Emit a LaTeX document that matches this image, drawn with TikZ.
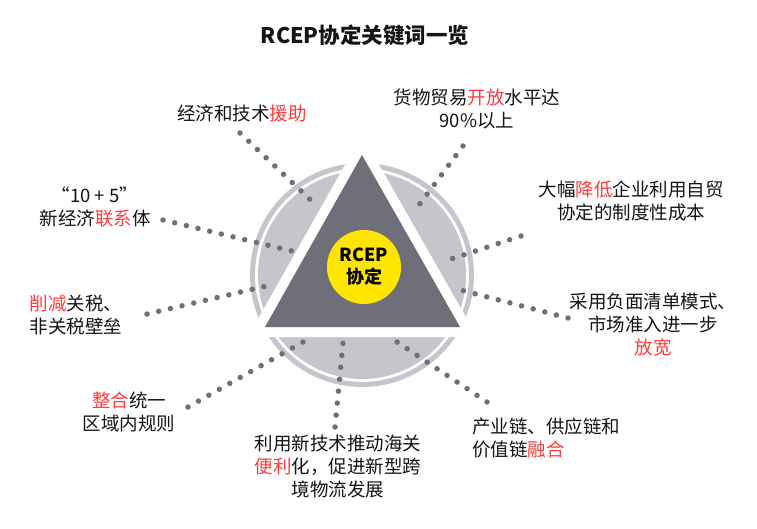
\documentclass[tikz,border=0pt]{standalone}
\usepackage{fontspec}
\setmainfont{Noto Sans CJK SC}
\definecolor{tri}{RGB}{111,111,122}
\definecolor{disk}{RGB}{197,197,204}
\definecolor{ylw}{RGB}{255,229,0}
\definecolor{hl}{RGB}{255,59,59}
\definecolor{txt}{RGB}{20,20,20}
\newcommand{\hlt}[1]{\textcolor{hl}{#1}}
\tikzset{
  dotline/.style={draw=tri, line width=5.5pt, line cap=round, dash pattern=on 0pt off 12pt},
  lbl/.style={align=center, text=txt, inner sep=0pt, font=\fontsize{18.5}{23}\selectfont},
}
\begin{document}
\begin{tikzpicture}[x=1pt,y=-1pt]
\useasboundingbox (0,0) rectangle (757,529);
% title
\node[inner sep=0pt, text=txt, font=\fontsize{21.5}{25}\selectfont\bfseries] (title) at (365,35) {RCEP协定关键词一览};
% disk
\coordinate (O) at (362,275);
\draw[disk, line width=5pt] (O) circle[radius=109.5];
\fill[disk] (O) circle[radius=104];
% triangle
\coordinate (A) at (362,155);
\coordinate (B) at (265,327);
\coordinate (C) at (460,327);
\draw[white, line width=20pt, line join=miter] (A) -- (B) -- (C) -- cycle;
\fill[tri] (A) -- (B) -- (C) -- cycle;
% yellow center
\node[circle, fill=ylw, minimum size=74pt, inner sep=0pt, align=center,
      font=\fontsize{18}{22}\selectfont\bfseries] (core) at (364,267) {RCEP\\协定};
% labels
\node[lbl] (l1) at (242,113) {经济和技术\hlt{援助}};
\node[lbl] (l2) at (477,109) {货物贸易\hlt{开放}水平达\\90\%以上};
\node[lbl] (l3) at (631,201) {大幅\hlt{降低}企业利用自贸\\协定的制度性成本};
\node[lbl] (l4) at (653,325) {采用负面清单模式、\\市场准入进一步\\\hlt{放宽}};
\node[lbl, align=left, anchor=west] (l5) at (472,438) {产业链、供应链和\\价值链\hlt{融合}};
\node[lbl] (l6) at (338,466) {利用新技术推动海关\\\hlt{便利}化，促进新型跨\\境物流发展};
\node[lbl] (l7) at (129,412) {\hlt{整合}统一\\区域内规则};
\node[lbl, align=left] (l8) at (76,315) {\hlt{削减}关税、\\非关税壁垒};
\node[lbl] (l9) at (95,207) {“10 + 5”\\新经济\hlt{联系}体};
% connector ends
\coordinate (s1) at (240,133); \coordinate (e1) at (318,207);
\coordinate (s2) at (463,146); \coordinate (e2) at (413,213);
\coordinate (s3) at (521,236); \coordinate (e3) at (442,262);
\coordinate (s4) at (568,318); \coordinate (e4) at (453,288);
\coordinate (s5) at (487,402); \coordinate (e5) at (397,342);
\coordinate (s6) at (335,427); \coordinate (e6) at (343,343);
\coordinate (s7) at (188,407); \coordinate (e7) at (303,342);
\coordinate (s8) at (147,314); \coordinate (e8) at (275,284);
\coordinate (s9) at (163,220); \coordinate (e9) at (292,251);
\foreach \i in {1,...,9} {\draw[dotline] (s\i) -- (e\i);}
\end{tikzpicture}
\end{document}
